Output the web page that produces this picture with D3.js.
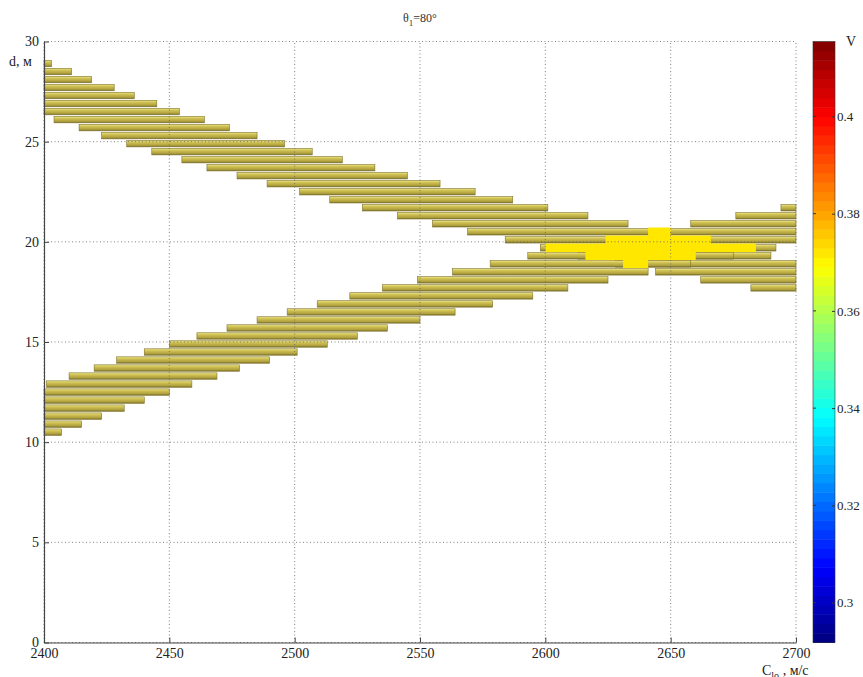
<!DOCTYPE html>
<html>
<head>
<meta charset="utf-8">
<script src="https://cdnjs.cloudflare.com/ajax/libs/d3/7.8.5/d3.min.js"></script>
<style>
  body { margin: 0; background: #fff; }
  text { font-family: "Liberation Serif", "DejaVu Serif", serif; }
</style>
</head>
<body>
<script>
// rows of the band going down from top-left: [d, C from, C to]
var upperBand = [
  [28.9, 2400, 2403], [28.5, 2400, 2411], [28.1, 2400, 2419], [27.7, 2400, 2428],
  [27.3, 2400, 2436], [26.9, 2400, 2445], [26.5, 2400, 2454], [26.1, 2404, 2464],
  [25.7, 2414, 2474], [25.3, 2423, 2485], [24.9, 2433, 2496], [24.5, 2443, 2507],
  [24.1, 2455, 2519], [23.7, 2465, 2532], [23.3, 2477, 2545], [22.9, 2489, 2558],
  [22.5, 2502, 2572], [22.1, 2514, 2587], [21.7, 2527, 2601], [21.3, 2541, 2617],
  [20.9, 2555, 2633], [20.5, 2569, 2648], [20.1, 2584, 2662], [19.7, 2598, 2676],
  [19.3, 2613, 2690], [18.9, 2628, 2700], [18.5, 2644, 2700], [18.1, 2662, 2700],
  [17.7, 2682, 2700]
];
// rows of the band going up from bottom-left
var lowerBand = [
  [10.5, 2400, 2407], [10.9, 2400, 2415], [11.3, 2400, 2423], [11.7, 2400, 2432],
  [12.1, 2400, 2440], [12.5, 2400, 2450], [12.9, 2401, 2459], [13.3, 2410, 2469],
  [13.7, 2420, 2478], [14.1, 2429, 2490], [14.5, 2440, 2501], [14.9, 2450, 2513],
  [15.3, 2461, 2525], [15.7, 2473, 2537], [16.1, 2485, 2550], [16.5, 2497, 2564],
  [16.9, 2509, 2579], [17.3, 2522, 2595], [17.7, 2535, 2609], [18.1, 2549, 2625],
  [18.5, 2563, 2641], [18.9, 2578, 2658], [19.3, 2593, 2675], [19.7, 2608, 2692],
  [20.1, 2625, 2700], [20.5, 2642, 2700], [20.9, 2658, 2700], [21.3, 2676, 2700],
  [21.7, 2694, 2700]
];
// where the two bands cross (higher V)
var crossRows = [
  [20.5, 2641, 2650], [20.1, 2624, 2666], [19.7, 2600, 2684],
  [19.3, 2616, 2660], [18.9, 2631, 2641]
];
var crossValue = 0.372;

var xTicks = [2400, 2450, 2500, 2550, 2600, 2650, 2700];
var yTicks = [0, 5, 10, 15, 20, 25, 30];
var cbTicks = [0.3, 0.32, 0.34, 0.36, 0.38, 0.4];
var cbRange = [0.2918, 0.4154];

var w = 863, h = 677;
var rowStep = 0.4, barH = 0.32;
var serif = "'Liberation Serif', 'DejaVu Serif', serif";

var svg = d3.select("body").append("svg")
    .attr("width", w)
    .attr("height", h);

var x = d3.scaleLinear().domain([2400, 2700]).range([44, 796]);
var y = d3.scaleLinear().domain([0, 30]).range([642.5, 41.5]);
var cy = d3.scaleLinear().domain(cbRange).range([642.5, 41.5]);

function jet(v) {
  var t = (v - cbRange[0]) / (cbRange[1] - cbRange[0]);
  var f = function(a) { return Math.round(255 * Math.max(0, Math.min(1, 1.5 - Math.abs(4 * t - a)))); };
  return d3.rgb(f(3), f(2), f(1)).toString();
}

// bar shading
var defs = svg.append("defs");
var grad = defs.append("linearGradient")
    .attr("id", "bar").attr("x1", 0).attr("y1", 0).attr("x2", 0).attr("y2", 1);
grad.append("stop").attr("offset", "0%").attr("stop-color", "#f0e688");
grad.append("stop").attr("offset", "30%").attr("stop-color", "#d0c254");
grad.append("stop").attr("offset", "75%").attr("stop-color", "#b0a13e");
grad.append("stop").attr("offset", "100%").attr("stop-color", "#7a6f2a");

var plot = svg.append("g");

plot.selectAll(".bar")
    .data(upperBand.concat(lowerBand))
    .enter().append("rect")
    .attr("class", "bar")
    .attr("x", function(d) { return x(d[1]); })
    .attr("y", function(d) { return y(d[0] + barH / 2); })
    .attr("width", function(d) { return x(d[2]) - x(d[1]); })
    .attr("height", function(d) { return y(d[0] - barH / 2) - y(d[0] + barH / 2); })
    .attr("fill", "url(#bar)")
    .attr("stroke", "#7d7229")
    .attr("stroke-width", 0.6);

plot.selectAll(".cross")
    .data(crossRows)
    .enter().append("rect")
    .attr("class", "cross")
    .attr("x", function(d) { return x(d[1]); })
    .attr("y", function(d) { return y(d[0] + rowStep / 2) - 0.3; })
    .attr("width", function(d) { return x(d[2]) - x(d[1]); })
    .attr("height", function(d) { return y(d[0] - rowStep / 2) - y(d[0] + rowStep / 2) + 0.6; })
    .attr("fill", jet(crossValue));

// dotted grid on top
var grid = svg.append("g")
    .attr("stroke", "#666")
    .attr("stroke-width", 0.8)
    .attr("stroke-dasharray", "1,2.5");
grid.selectAll(".gx").data(xTicks).enter().append("line")
    .attr("x1", function(d) { return x(d); }).attr("x2", function(d) { return x(d); })
    .attr("y1", y(0)).attr("y2", y(30));
grid.selectAll(".gy").data(yTicks).enter().append("line")
    .attr("y1", function(d) { return y(d); }).attr("y2", function(d) { return y(d); })
    .attr("x1", x(2400)).attr("x2", x(2700));

var gx = svg.append("g")
    .attr("transform", "translate(0," + y(0) + ")")
    .call(d3.axisBottom(x).tickValues(xTicks).tickFormat(d3.format("d"))
      .tickSizeInner(-5).tickSizeOuter(0).tickPadding(6));
var gy = svg.append("g")
    .attr("transform", "translate(" + x(2400) + ",0)")
    .call(d3.axisLeft(y).tickValues(yTicks).tickFormat(d3.format("d"))
      .tickSizeInner(-5).tickSizeOuter(0).tickPadding(5));

[gx, gy].forEach(function(g) {
  g.attr("font-family", null);
  g.select(".domain").attr("stroke", "#444").attr("stroke-width", 1.2);
  g.selectAll(".tick line").attr("stroke", "#444");
  g.selectAll(".tick text").attr("font-size", 14).attr("fill", "#222")
    .style("font-family", serif);
});

// colorbar
var cbX = 813, cbW = 22, nCells = 64;
var cbStep = (cbRange[1] - cbRange[0]) / nCells;
var cells = d3.range(nCells).map(function(i) { return cbRange[0] + i * cbStep; });
svg.append("g").selectAll("rect")
    .data(cells)
    .enter().append("rect")
    .attr("x", cbX)
    .attr("width", cbW)
    .attr("y", function(d) { return cy(d + cbStep); })
    .attr("height", function(d) { return cy(d) - cy(d + cbStep) + 0.5; })
    .attr("fill", function(d) { return jet(d + cbStep / 2); });
svg.append("rect")
    .attr("x", cbX).attr("y", cy(cbRange[1]))
    .attr("width", cbW).attr("height", cy(cbRange[0]) - cy(cbRange[1]))
    .attr("fill", "none").attr("stroke", "#333").attr("stroke-width", 0.6);

var gc = svg.append("g")
    .attr("transform", "translate(" + (cbX + cbW) + ",0)")
    .call(d3.axisRight(cy).tickValues(cbTicks).tickFormat(d3.format("~g"))
      .tickSizeInner(-3).tickSizeOuter(0).tickPadding(2));
gc.attr("font-family", null);
gc.select(".domain").remove();
gc.selectAll(".tick line").attr("stroke", "#333");
gc.selectAll(".tick text").attr("font-size", 13).attr("fill", "#222")
  .style("font-family", serif);
svg.append("g").selectAll("line")
    .data(cbTicks)
    .enter().append("line")
    .attr("x1", cbX).attr("x2", cbX + 3)
    .attr("y1", function(d) { return cy(d); }).attr("y2", function(d) { return cy(d); })
    .attr("stroke", "#333");

svg.append("text")
    .attr("x", 846).attr("y", 46)
    .attr("font-size", 14).attr("fill", "#222")
    .text("V");

// title
var title = svg.append("text")
    .attr("x", 420).attr("y", 22)
    .attr("text-anchor", "middle")
    .attr("font-size", 12).attr("fill", "#333");
title.append("tspan").text("θ");
title.append("tspan").attr("font-size", 9).attr("dy", 4).text("1");
title.append("tspan").attr("dy", -4).text("=80°");

// axis labels
svg.append("text")
    .attr("x", 9).attr("y", 66)
    .attr("font-size", 14).attr("fill", "#222")
    .text("d, м");

var xl = svg.append("text")
    .attr("x", 762).attr("y", 675)
    .attr("font-size", 14).attr("fill", "#222");
xl.append("tspan").text("C");
xl.append("tspan").attr("font-size", 10).attr("dy", 4).text("lo");
xl.append("tspan").attr("dy", -4).text(" , м/с");
</script>
</body>
</html>
